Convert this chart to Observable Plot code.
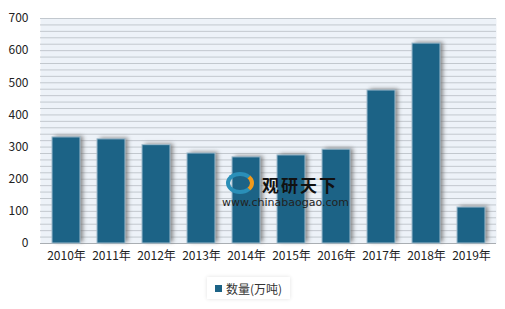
<!DOCTYPE html>
<html><head><meta charset="utf-8">
<script src="https://cdn.jsdelivr.net/npm/d3@7"></script>
<script src="https://cdn.jsdelivr.net/npm/@observablehq/plot@0.6"></script>
<style>
body{margin:0;background:#fff;font-family:"Noto Sans CJK SC","Noto Sans",sans-serif;}
#wrap{position:relative;width:505px;height:309px;}
.shadow{filter:blur(2px);}
#legend{position:absolute;left:207px;top:277px;height:22px;padding:0 8px;display:flex;align-items:center;font-size:12px;color:#333;background:#fff;box-shadow:0 0 4px rgba(0,0,0,0.12);}
#legend span.sw{display:inline-block;width:7px;height:7px;background:#1c6386;margin-right:4px;}
#wm{position:absolute;left:222px;top:170px;pointer-events:none;}
#wm .t{position:absolute;left:40px;top:2px;font-size:17px;font-weight:bold;color:#111;letter-spacing:2px;white-space:nowrap;}
#wm .u{position:absolute;left:0px;top:26px;font-size:11px;color:#222;white-space:nowrap;font-family:"DejaVu Sans",sans-serif;}
#wm .logo{position:absolute;left:4px;top:2px;width:28px;height:22px;border-radius:50%;border:4px solid #2a8fb8;border-right-color:#f29a1a;box-sizing:border-box;}
</style></head>
<body><div id="wrap"><div id="chart"></div>
<div id="wm"><div class="logo"></div><div class="t">观研天下</div><div class="u">www.chinabaogao.com</div></div>
<div id="legend"><span class="sw"></span>数量(万吨)</div></div>
<script>
const years = ["2010年","2011年","2012年","2013年","2014年","2015年","2016年","2017年","2018年","2019年"];
const values = [330, 324, 306, 280, 268, 274, 292, 476, 622, 112];
const yTicks = [0,100,200,300,400,500,600,700];
const gridLines = d3.range(0, 701, 20);
const data = years.map((y,i)=>({year:y, value:values[i]}));
const plot = Plot.plot({
  width:505, height:270,
  marginTop:18, marginBottom:27, marginLeft:40, marginRight:9,
  style:{fontFamily:'"Noto Sans CJK SC","Noto Sans",sans-serif', fontSize:"12px", color:"#333", background:"#fff"},
  x:{domain:years, paddingInner:0.38, paddingOuter:0.17, label:null, tickSize:0, tickPadding:8},
  y:{domain:[0,700], ticks:yTicks, label:null, tickSize:0, tickPadding:12},
  marks:[
    Plot.frame({fill:"#edf2f8", stroke:null}),
    Plot.ruleY(gridLines, {stroke:"#c2c8ce", strokeWidth:1}),
    Plot.ruleY([0], {stroke:"#a9aeb3"}),
    Plot.barY(data, {x:"year", y:"value", fill:"#6e6e6e", fillOpacity:0.8, dx:3, dy:-1, className:"shadow"}),
    Plot.barY(data, {x:"year", y:"value", fill:"#1c6386", stroke:"#9fbccd", strokeWidth:1}),
    Plot.axisX({tickSize:0, tickPadding:8, fontSize:12, fill:"#222"}),
    Plot.axisY({ticks:yTicks, tickSize:0, tickPadding:12, fontSize:12, fill:"#222"})
  ]
});
document.getElementById("chart").appendChild(plot);
</script></body></html>
